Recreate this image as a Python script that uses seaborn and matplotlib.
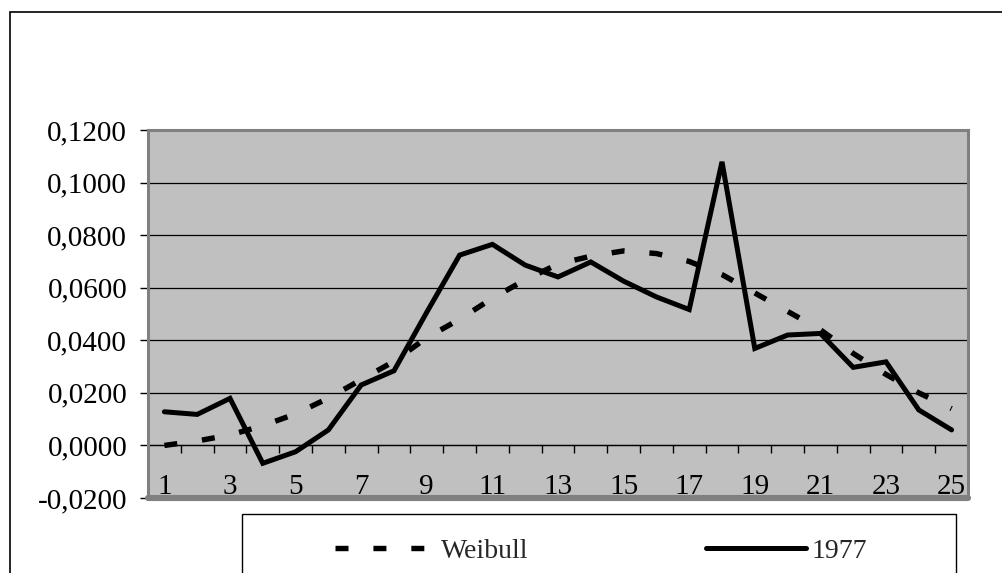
import matplotlib
matplotlib.use("Agg")
import matplotlib.pyplot as plt
from matplotlib.patches import Rectangle
from matplotlib.ticker import FixedLocator, FuncFormatter
import numpy as np
import pandas as pd
import seaborn as sns

# Data
categories = list(range(1, 26))
weibull = [0.0000, 0.0017, 0.0040, 0.0075, 0.0120, 0.0180, 0.0250, 0.0320,
           0.0410, 0.0480, 0.0560, 0.0630, 0.0690, 0.0720, 0.0740, 0.0730,
           0.0700, 0.0650, 0.0580, 0.0510, 0.0440, 0.0350, 0.0270, 0.0200,
           0.0140]
y1977 = [0.0128, 0.0118, 0.0179, -0.0068, -0.0024, 0.0059, 0.0230, 0.0284,
         0.0507, 0.0724, 0.0765, 0.0686, 0.0641, 0.0698, 0.0625, 0.0565,
         0.0517, 0.1079, 0.0369, 0.0420, 0.0426, 0.0297, 0.0318, 0.0135,
         0.0059]
y_ticks = [-0.02, 0.0, 0.02, 0.04, 0.06, 0.08, 0.10, 0.12]
x_labels = [str(c) for c in categories if c % 2 == 1]

sns.set_theme(style="white")
plt.rcParams["font.family"] = ["Liberation Serif", "DejaVu Serif"]
FS_TICK = 21
FS_LEG = 20

W, H = 1003, 573
fig = plt.figure(figsize=(W / 100, H / 100), dpi=100)
fig.patch.set_facecolor("white")

# Outer chart border (runs off the right and bottom edges)
fig.patches.append(Rectangle((10 / W, -0.2), 1.2, (1 - 12 / H) + 0.2,
                             transform=fig.transFigure, fill=False,
                             edgecolor="black", lw=1.2))

left, right, top, bottom = 148, 968, 130, 498
ax = fig.add_axes([left / W, 1 - bottom / H, (right - left) / W, (bottom - top) / H])
ax.set_facecolor("#c0c0c0")

df = pd.DataFrame({"cat": categories, "Weibull": weibull, "1977": y1977})

sns.lineplot(data=df, x="cat", y="Weibull", ax=ax, color="black",
             label="Weibull", legend=False)
sns.lineplot(data=df, x="cat", y="1977", ax=ax, color="black",
             label="1977", legend=False)
wb_line, yr_line = ax.lines[0], ax.lines[1]
wb_line.set_linewidth(3.9)
wb_line.set_dashes((2.4, 4.6))
wb_line.set_dash_capstyle("butt")
yr_line.set_linewidth(3.6)
yr_line.set_solid_capstyle("round")
yr_line.set_solid_joinstyle("miter")

ax.set_xlim(0.5, 25.5)
ax.set_ylim(-0.02, 0.12)
ax.set_xlabel("")
ax.set_ylabel("")

# Y axis
ax.yaxis.set_major_locator(FixedLocator(y_ticks))
ax.yaxis.set_major_formatter(FuncFormatter(lambda v, p: f"{v:.4f}".replace(".", ",")))
ax.tick_params(axis="y", direction="out", length=6, width=1, color="black",
               pad=9, labelsize=FS_TICK, labelcolor="black", left=True)
ax.yaxis.grid(True, color="black", lw=0.9)
ax.xaxis.grid(False)
ax.set_axisbelow(True)

# Category axis crosses at zero
ax.spines["bottom"].set_position(("data", 0))
ax.spines["bottom"].set_color("black")
ax.spines["bottom"].set_linewidth(0.9)
ax.spines["bottom"].set_zorder(1.5)
for s in ["left", "right", "top"]:
    ax.spines[s].set_color("#808080")
    ax.spines[s].set_linewidth(2.2)
ax.axhline(-0.02, color="#808080", lw=4.4, clip_on=False, zorder=2.5)

ax.xaxis.set_major_locator(FixedLocator([c for c in categories if c % 2 == 1]))
ax.set_xticklabels(x_labels)
ax.xaxis.set_minor_locator(FixedLocator(np.arange(0.5, 26, 1.0)))
ax.tick_params(axis="x", which="major", length=0, pad=20.5, labelsize=FS_TICK,
               labelcolor="black", bottom=True)
ax.tick_params(axis="x", which="minor", direction="out", length=6, width=1,
               color="black", bottom=True)

# Legend
fig.patches.append(Rectangle((242 / W, -0.2), (956 - 242) / W, (573 - 514) / H + 0.2,
                             transform=fig.transFigure, fill=False,
                             edgecolor="black", lw=1.0))
fig.legend([wb_line, yr_line], ["Weibull", "1977"], ncol=2, loc="center left",
           bbox_to_anchor=(335 / W, 1 - 551 / H), frameon=False, fontsize=FS_LEG,
           handlelength=3.6, handletextpad=0.2, columnspacing=6.4,
           borderpad=0, borderaxespad=0)

fig.savefig("out.png", dpi=100)
